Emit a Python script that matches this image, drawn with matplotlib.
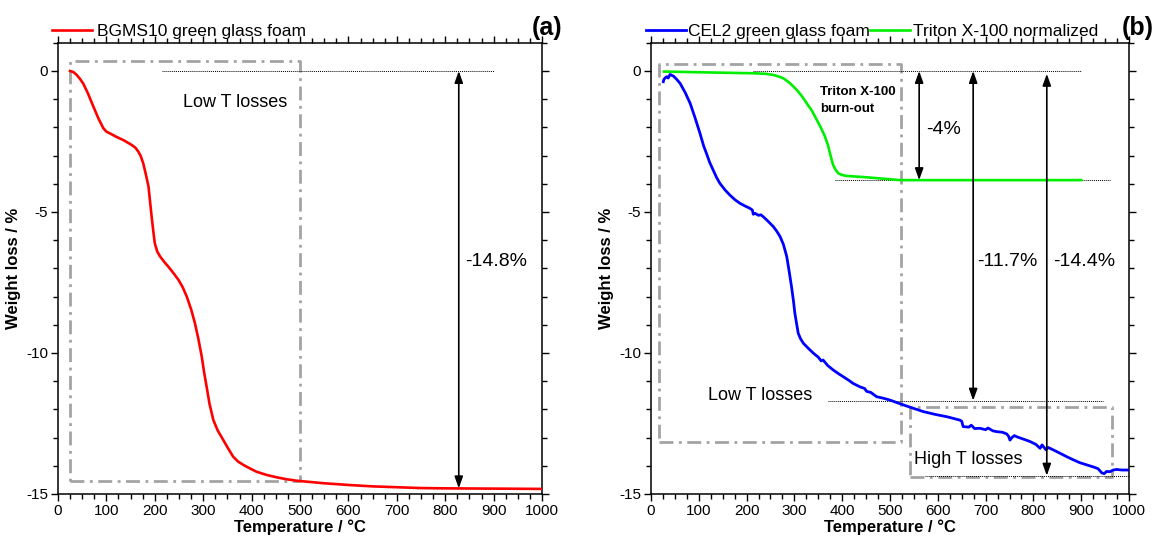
import matplotlib
matplotlib.use("Agg")
import matplotlib.pyplot as plt
from matplotlib.ticker import MultipleLocator

plt.rcParams['font.family'] = ['Liberation Sans', 'DejaVu Sans']
plt.rcParams['axes.unicode_minus'] = False

# panel (a): BGMS10 green glass foam
bgms_T = [24.8, 32, 38.6, 45, 52, 62, 73, 84, 93.7, 100, 107, 120, 135, 152, 160, 166, 171,
          176, 182, 187, 190, 193.5, 197, 200, 205, 211, 220, 228, 240, 249, 258, 266, 275,
          283, 290, 297, 302, 307, 313, 321, 330, 341.6, 352, 362, 372, 383, 395, 410, 430,
          452, 470, 493, 550, 600, 650, 700, 750, 800, 900, 1000]
bgms_W = [0, -0.04, -0.14, -0.27, -0.44, -0.8, -1.26, -1.7, -2.03, -2.15, -2.21, -2.33, -2.45,
          -2.62, -2.72, -2.86, -3.02, -3.27, -3.7, -4.10, -4.6, -5.17, -5.7, -6.11, -6.4, -6.58,
          -6.78, -6.94, -7.2, -7.41, -7.68, -8.0, -8.45, -8.95, -9.5, -10.13, -10.7, -11.19,
          -11.8, -12.38, -12.75, -13.09, -13.4, -13.68, -13.85, -13.97, -14.08, -14.21, -14.32,
          -14.41, -14.47, -14.53, -14.62, -14.68, -14.73, -14.76, -14.79, -14.80, -14.81, -14.82]

# panel (b): CEL2 green glass foam
cel2_T = [25.8, 27, 29, 33, 36, 40, 44, 47, 54, 61, 72, 82, 92, 102.5, 110, 116, 123, 130, 137,
          144, 155, 165, 176, 186, 197, 207, 212, 214, 218, 225, 230, 235, 245, 256, 263, 270,
          277, 284, 289, 294, 298, 301, 305, 308, 313, 319, 330, 340, 350, 356, 360, 370, 381,
          392, 402, 413, 423, 437, 447, 451, 460, 472, 485, 500, 521, 545, 570, 595, 619, 646,
          650, 653, 665, 670, 677, 688, 700, 705, 715, 723, 735, 744, 748, 751, 755, 760, 765,
          780, 793, 805, 814, 818, 821, 826, 831, 842, 855, 870, 885, 897, 912, 925, 935, 943,
          948, 953, 960, 967, 974, 985, 1000]
cel2_W = [-0.38, -0.3, -0.26, -0.2, -0.25, -0.12, -0.16, -0.18, -0.3, -0.44, -0.78, -1.15, -1.65,
          -2.21, -2.65, -2.92, -3.25, -3.51, -3.77, -3.98, -4.22, -4.40, -4.57, -4.69, -4.79,
          -4.87, -4.93, -5.08, -5.05, -5.12, -5.1, -5.17, -5.33, -5.52, -5.68, -5.87, -6.15,
          -6.58, -7.1, -7.65, -8.15, -8.59, -9.0, -9.30, -9.5, -9.66, -9.85, -10.01, -10.15,
          -10.28, -10.25, -10.45, -10.60, -10.73, -10.84, -10.96, -11.08, -11.2, -11.26, -11.36,
          -11.4, -11.55, -11.6, -11.67, -11.80, -11.94, -12.08, -12.18, -12.26, -12.38, -12.42,
          -12.61, -12.63, -12.56, -12.68, -12.67, -12.72, -12.66, -12.76, -12.79, -12.81, -12.87,
          -12.95, -13.09, -13.0, -12.93, -12.97, -13.06, -13.14, -13.24, -13.38, -13.26, -13.32,
          -13.43, -13.35, -13.44, -13.55, -13.68, -13.8, -13.89, -13.97, -14.04, -14.1, -14.25,
          -14.28, -14.2, -14.21, -14.15, -14.13, -14.15, -14.15]

# Triton X-100 normalized
triton_T = [27, 116, 214, 240, 256, 268, 277, 290, 305, 316, 326, 337, 347, 356, 364, 370, 374.5,
            378, 381, 386, 392, 400, 409, 451, 521, 600, 900]
triton_W = [-0.02, -0.05, -0.08, -0.1, -0.14, -0.2, -0.26, -0.42, -0.67, -0.9, -1.15, -1.42,
            -1.74, -2.03, -2.33, -2.62, -2.92, -3.15, -3.33, -3.5, -3.63, -3.69, -3.72, -3.77,
            -3.87, -3.87, -3.87]

BOX_GREY = '#a3a3a3'


def style_axes(ax):
    ax.set_xlim(0, 1000)
    ax.set_ylim(-15, 1)
    ax.xaxis.set_major_locator(MultipleLocator(100))
    ax.xaxis.set_minor_locator(MultipleLocator(25))
    ax.yaxis.set_major_locator(MultipleLocator(5))
    ax.yaxis.set_minor_locator(MultipleLocator(1))
    ax.tick_params(which='both', direction='out', top=True, right=True, width=1)
    ax.tick_params(which='major', length=5, labelsize=11, pad=2)
    ax.tick_params(which='minor', length=3.5)
    for s in ax.spines.values():
        s.set_linewidth(1.1)
    ax.set_xlabel('Temperature / °C', fontsize=12, fontweight='bold', labelpad=1)
    ax.set_ylabel('Weight loss / %', fontsize=12, fontweight='bold', labelpad=4)


def box(ax, x0, x1, y0, y1):
    ax.plot([x0, x1, x1, x0, x0], [y0, y0, y1, y1, y0], color=BOX_GREY, lw=2,
            dashes=(5, 2, 1, 2), zorder=1)


def dotted(ax, x0, x1, y):
    ax.plot([x0, x1], [y, y], color='k', lw=0.7, linestyle=(0, (1, 1)), zorder=2)


def arrow(ax, x, y_top, y_bot):
    ax.annotate('', xy=(x, y_bot), xytext=(x, y_top),
                arrowprops=dict(arrowstyle='<|-|>,head_length=0.7,head_width=0.25',
                                color='k', lw=1.2, mutation_scale=10,
                                shrinkA=0, shrinkB=0), zorder=4)


fig = plt.figure(figsize=(11.53, 5.41), dpi=100)
ax1 = fig.add_axes([0.0503, 0.0869, 0.4198, 0.834])
ax2 = fig.add_axes([0.5646, 0.0869, 0.4146, 0.834])

# ---- panel (a)
style_axes(ax1)
box(ax1, 25, 500, -14.55, 0.35)
dotted(ax1, 215, 900, 0)
ax1.plot(bgms_T, bgms_W, color='#ff0000', lw=1.9, label='BGMS10 green glass foam', zorder=3)
arrow(ax1, 828, 0, -14.8)
ax1.text(258, -1.12, 'Low T losses', fontsize=13, ha='left', va='center')
ax1.text(841, -6.74, '-14.8%', fontsize=14, ha='left', va='center')
ax1.legend(loc='center left', bbox_to_anchor=(-0.0124, 1.026), frameon=False, fontsize=12.5,
           handlelength=2.3, handletextpad=0.3, borderpad=0, borderaxespad=0)
fig.text(547 / 1153, 1 - 28 / 541, '(a)', fontsize=18, fontweight='bold', ha='center', va='center')

# ---- panel (b)
style_axes(ax2)
box(ax2, 17, 522, -13.15, 0.24)
box(ax2, 542, 965, -14.39, -11.93)
dotted(ax2, 214, 900, 0)
dotted(ax2, 385, 960, -3.87)
dotted(ax2, 371, 945, -11.69)
dotted(ax2, 573, 1000, -14.35)
ax2.plot(cel2_T, cel2_W, color='#0000ff', lw=2.0, label='CEL2 green glass foam', zorder=3)
ax2.plot(triton_T, triton_W, color='#00ee00', lw=1.9, label='Triton X-100 normalized', zorder=3)
arrow(ax2, 561, 0, -3.87)
arrow(ax2, 674, 0, -11.69)
arrow(ax2, 828, -0.1, -14.35)
ax2.text(354, -1.04, 'Triton X-100\nburn-out', fontsize=9.5, fontweight='bold',
         ha='left', va='center', linespacing=1.5)
ax2.text(575, -2.06, '-4%', fontsize=14, ha='left', va='center')
ax2.text(682, -6.76, '-11.7%', fontsize=14, ha='left', va='center')
ax2.text(841, -6.76, '-14.4%', fontsize=14, ha='left', va='center')
ax2.text(119, -11.49, 'Low T losses', fontsize=13, ha='left', va='center')
ax2.text(550, -13.79, 'High T losses', fontsize=13, ha='left', va='center')
ax2.legend(loc='center left', bbox_to_anchor=(-0.0105, 1.026), frameon=False, fontsize=12.5,
           ncol=2, handlelength=2.3, handletextpad=0.15, columnspacing=0.0,
           borderpad=0, borderaxespad=0)
fig.text(1138 / 1153, 1 - 28 / 541, '(b)', fontsize=18, fontweight='bold', ha='center', va='center')

fig.savefig('out.png', dpi=100)
